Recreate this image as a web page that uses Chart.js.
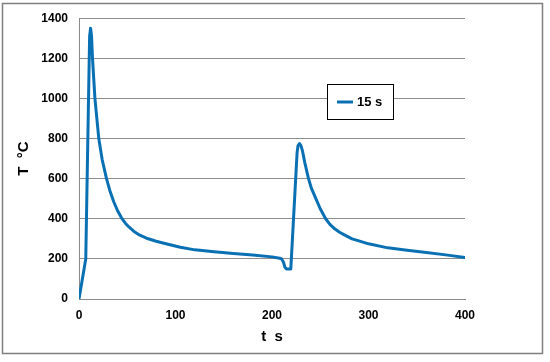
<!DOCTYPE html>
<html>
<head>
<meta charset="utf-8">
<script src="https://cdn.jsdelivr.net/npm/chart.js@4/dist/chart.umd.min.js"></script>
<style>
  html, body { margin: 0; padding: 0; background: #fff; }
  #wrap { position: relative; width: 550px; height: 362px; }
</style>
</head>
<body>
<div id="wrap"><canvas id="chart" width="550" height="362"></canvas></div>
<script>
'use strict';

/* ── data ── */
const seriesLabel = '15 s';
const timeS = [0, 7, 11, 12, 13, 14, 16.5, 20.5, 24, 28.5, 32, 36, 40, 44, 48, 52, 57, 63, 70, 80, 89, 105, 120, 140,
               160, 180, 200, 208, 210, 212, 213.5, 215, 219.5, 226, 227, 228.5, 230, 231.5, 234, 237.8, 241, 245, 250,
               255.6, 260, 265, 270, 275, 283, 290, 300, 320, 340, 360, 380, 400];
const tempC = [0, 200, 1310, 1350, 1310, 1200, 1000, 800, 695, 600, 540, 485, 440, 405, 378, 358, 337, 318, 303, 288, 277, 258, 245, 235,
               227, 219, 210, 203, 200, 182, 157, 150, 150, 730, 765, 775, 765, 740, 680, 600, 550, 505, 450,
               400, 372, 350, 333, 320, 300, 290, 275, 255, 243, 232, 220, 207];
const xTicks = [0, 100, 200, 300, 400];
const yTicks = [0, 200, 400, 600, 800, 1000, 1200, 1400];

const FONT = "'Liberation Sans', Arial, sans-serif";
const LINE = '#0a70b4';
const GRID = '#8c8c8c';

/* outer frame */
const framePlugin = {
  id: 'frame',
  beforeDraw(chart) {
    const ctx = chart.ctx;
    ctx.save();
    ctx.strokeStyle = '#7f7f7f';
    ctx.lineWidth = 1.5;
    ctx.strokeRect(2.5, 3.5, 540, 350);
    ctx.restore();
  }
};

/* boxed legend inside the plot */
const boxLegend = {
  id: 'boxLegend',
  afterDraw(chart) {
    const ctx = chart.ctx;
    const ds = chart.data.datasets[0];
    const x = 327.5, y = 84.5, w = 66, h = 35;
    ctx.save();
    ctx.fillStyle = '#fff';
    ctx.fillRect(x, y, w, h);
    ctx.strokeStyle = '#000';
    ctx.lineWidth = 1;
    ctx.strokeRect(x, y, w, h);
    ctx.strokeStyle = ds.borderColor;
    ctx.lineWidth = 3;
    ctx.beginPath();
    ctx.moveTo(337, 102);
    ctx.lineTo(353, 102);
    ctx.stroke();
    ctx.fillStyle = '#000';
    ctx.font = 'bold 13px ' + FONT;
    ctx.textBaseline = 'middle';
    ctx.fillText(ds.label, 357, 102);
    ctx.restore();
  }
};

const points = timeS.map((t, i) => ({ x: t, y: tempC[i] }));

new Chart(document.getElementById('chart'), {
  type: 'scatter',
  data: {
    datasets: [{
      label: seriesLabel,
      data: points,
      showLine: true,
      borderColor: LINE,
      backgroundColor: LINE,
      borderWidth: 3,
      borderJoinStyle: 'round',
      borderCapStyle: 'round',
      pointRadius: 0,
      tension: 0,
    }]
  },
  options: {
    responsive: false,
    animation: false,
    layout: { padding: { left: 0, top: 16, right: 85, bottom: 0 } },
    plugins: { legend: { display: false }, tooltip: { enabled: false } },
    scales: {
      x: {
        type: 'linear', min: 0, max: 400,
        afterBuildTicks: s => { s.ticks = xTicks.map(v => ({ value: v })); },
        afterFit: s => { s.height = 63; },
        grid: { display: false, drawTicks: false },
        border: { display: true, color: GRID, width: 1 },
        ticks: { color: '#000', font: { family: FONT, size: 12, weight: 'bold' }, padding: 9, maxRotation: 0,
                 callback: v => String(v) },
        title: { display: true, text: 't  s', color: '#000', font: { family: FONT, size: 15, weight: 'bold' }, padding: { bottom: 16 } },
      },
      y: {
        type: 'linear', min: 0, max: 1400,
        afterBuildTicks: s => { s.ticks = yTicks.map(v => ({ value: v })); },
        afterFit: s => { s.width = 79; },
        grid: { color: GRID, lineWidth: 1, drawTicks: false },
        border: { display: true, color: GRID, width: 1 },
        ticks: { color: '#000', font: { family: FONT, size: 12, weight: 'bold' }, padding: 11,
                 callback: v => String(v) },
        title: { display: true, text: 'T  °C', color: '#000', font: { family: FONT, size: 15, weight: 'bold' }, padding: { top: 15 } },
      }
    }
  },
  plugins: [framePlugin, boxLegend]
});
</script>
</body>
</html>
